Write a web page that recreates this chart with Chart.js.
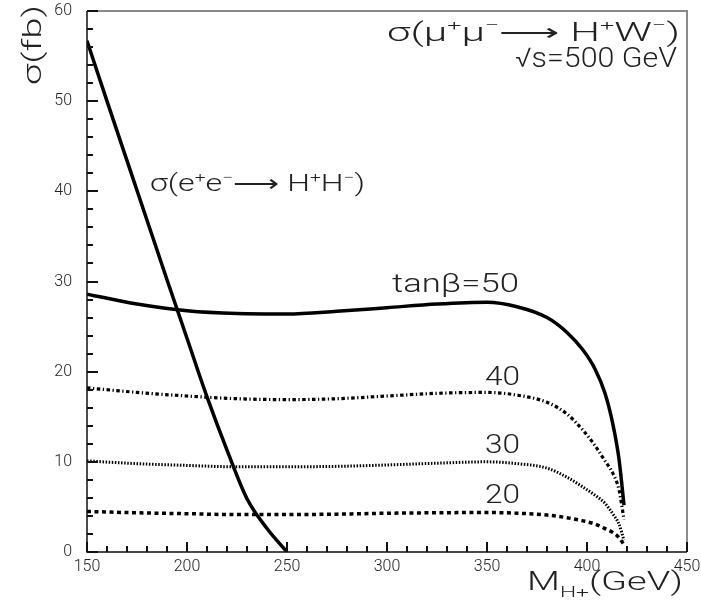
<!DOCTYPE html>
<html>
<head>
<meta charset="utf-8">
<script src="https://cdn.jsdelivr.net/npm/chart.js@4"></script>
<style>
  html, body { margin: 0; padding: 0; background: #fff; }
  #chart { display: block; }
</style>
</head>
<body>
<canvas id="chart" width="701" height="604"></canvas>
<script>
// ── Data ──
const eeMass  = [150, 160, 170, 180, 190, 200, 210, 220, 230, 240, 250];
const eeSigma = [56.7, 50.0, 43.4, 36.8, 30.2, 23.7, 17.2, 11.3, 5.9, 2.6, 0];

const hwMass = [150, 175, 200, 225, 250, 275, 300, 325, 350, 365, 380, 390, 398, 404, 409, 413, 416, 418.5];
const tb50 = [28.6, 27.5, 26.75, 26.45, 26.4, 26.7, 27.1, 27.5, 27.7, 27.2, 26.0, 24.35, 22.4, 20.3, 17.6, 14.1, 10.3, 5.2];
const tb40 = [18.2, 17.7, 17.3, 17.0, 16.9, 17.0, 17.3, 17.6, 17.7, 17.4, 16.6, 15.3, 13.5, 11.8, 10.1, 8.7, 6.9, 3.6];
const tb30 = [10.1, 9.8, 9.6, 9.45, 9.45, 9.5, 9.65, 9.85, 10.0, 9.8, 9.3, 8.3, 7.2, 6.3, 5.4, 4.2, 3.1, 1.3];
const tb20 = [4.5, 4.35, 4.25, 4.15, 4.15, 4.2, 4.3, 4.35, 4.38, 4.3, 4.1, 3.8, 3.45, 3.1, 2.6, 2.15, 1.6, 0.8];

const xTicks = [150, 200, 250, 300, 350, 400, 450];
const yTicks = [0, 10, 20, 30, 40, 50, 60];
const xMinorStep = 10;
const yMinorStep = 2;

// ── Text on the plot (anchored in data units) ──
// parts: [text, mode]  mode '' normal, 's' superscript, 'b' subscript
const notes = [
  { parts: [['σ(μ'], ['+', 's'], ['μ'], ['−', 's'], ['⟶ H'], ['+', 's'], ['W'], ['−', 's'], [')']],
    x: 446.5, y: 56.7, size: 25, width: 293, align: 'right' },
  { parts: [['√s=500 GeV']], x: 445, y: 53.8, size: 27, width: 162, align: 'right' },
  { parts: [['σ(e'], ['+', 's'], ['e'], ['−', 's'], ['⟶ H'], ['+', 's'], ['H'], ['−', 's'], [')']],
    x: 181.5, y: 40.0, size: 23, width: 215, align: 'left' },
  { parts: [['tanβ=50']], x: 302.5, y: 28.8, size: 25, width: 127, align: 'left' },
  { parts: [['40']], x: 349, y: 18.5, size: 25, width: 35, align: 'left' },
  { parts: [['30']], x: 349, y: 11.0, size: 25, width: 35, align: 'left' },
  { parts: [['20']], x: 349, y: 5.43, size: 25, width: 35, align: 'left' }
];

const FONT = 'Roboto, "DejaVu Sans", sans-serif';

function partFont(size, mode) {
  const s = mode ? size * 0.6 : size;
  return `300 ${s}px ${FONT}`;
}

function drawRich(ctx, parts, x, y, size, width, align, rotate) {
  ctx.save();
  ctx.textBaseline = 'alphabetic';
  ctx.textAlign = 'left';
  let natural = 0;
  parts.forEach(([t, m]) => { ctx.font = partFont(size, m); natural += ctx.measureText(t).width; });
  const sx = width / natural;
  ctx.translate(x, y);
  if (rotate) ctx.rotate(rotate);
  if (align === 'right') ctx.translate(-width, 0);
  ctx.scale(sx, 1);
  let cx = 0;
  parts.forEach(([t, m]) => {
    ctx.font = partFont(size, m);
    const dy = m === 's' ? -size * 0.42 : m === 'b' ? size * 0.28 : 0;
    ctx.fillText(t, cx, dy);
    cx += ctx.measureText(t).width;
  });
  ctx.restore();
}

// ── Frame, inward ticks, labels ──
const framePlugin = {
  id: 'frame',
  afterDraw(chart) {
    const { ctx, chartArea: a, scales: { x, y } } = chart;
    ctx.save();
    ctx.setLineDash([]);
    ctx.strokeStyle = '#8a8a8a';
    ctx.lineWidth = 2;
    ctx.beginPath();
    ctx.moveTo(a.left, a.top); ctx.lineTo(a.right, a.top); ctx.lineTo(a.right, a.bottom);
    ctx.stroke();

    ctx.strokeStyle = '#111';
    ctx.lineWidth = 1.5;
    ctx.beginPath();
    ctx.moveTo(a.left, a.top); ctx.lineTo(a.left, a.bottom); ctx.lineTo(a.right, a.bottom);
    ctx.stroke();

    // inward tick marks
    ctx.fillStyle = '#111';
    for (let v = xTicks[0]; v <= xTicks[xTicks.length - 1]; v += xMinorStep) {
      const px = Math.round(x.getPixelForValue(v));
      const len = xTicks.includes(v) ? 10 : 6;
      ctx.fillRect(px - 1, a.bottom - len, 2, len);
    }
    for (let v = yTicks[0]; v <= yTicks[yTicks.length - 1]; v += yMinorStep) {
      const py = Math.round(y.getPixelForValue(v));
      const len = yTicks.includes(v) ? 11 : 6;
      ctx.fillRect(a.left, py - 1, len, 2);
    }

    ctx.fillStyle = '#222';
    notes.forEach(n => {
      drawRich(ctx, n.parts, x.getPixelForValue(n.x), y.getPixelForValue(n.y), n.size, n.width, n.align);
    });

    // axis titles
    drawRich(ctx, [['M'], ['H+', 'b'], ['(GeV)']], a.right - 4, a.bottom + 38, 25, 156, 'right');
    drawRich(ctx, [['σ(fb)']], 41, a.top + 74, 26, 80, 'left', -Math.PI / 2);
    ctx.restore();
  }
};

function series(xs, ys) {
  return xs.map((m, i) => ({ x: m, y: ys[i] }));
}

const lineBase = {
  borderColor: '#000',
  pointRadius: 0,
  fill: false,
  cubicInterpolationMode: 'monotone'
};

new Chart(document.getElementById('chart'), {
  type: 'line',
  data: {
    datasets: [
      { ...lineBase, label: 'ee → H+H−', data: series(eeMass, eeSigma), borderWidth: 3.5 },
      { ...lineBase, label: 'tanβ=50', data: series(hwMass, tb50), borderWidth: 3.5 },
      { ...lineBase, label: 'tanβ=40', data: series(hwMass, tb40), borderWidth: 3.2, borderDash: [3.5, 2.5, 1.3, 2.5] },
      { ...lineBase, label: 'tanβ=30', data: series(hwMass, tb30), borderWidth: 3, borderDash: [1.5, 1.6] },
      { ...lineBase, label: 'tanβ=20', data: series(hwMass, tb20), borderWidth: 3.5, borderDash: [4, 3.5] }
    ]
  },
  options: {
    responsive: false,
    animation: false,
    devicePixelRatio: 1,
    layout: { padding: { left: 0, top: 11, right: 14, bottom: 0 } },
    plugins: { legend: { display: false }, tooltip: { enabled: false } },
    scales: {
      x: {
        type: 'linear', min: 150, max: 450,
        afterBuildTicks: s => { s.ticks = xTicks.map(v => ({ value: v })); },
        afterFit: s => { s.height = 52; s.paddingLeft = 0; s.paddingRight = 0; },
        ticks: { font: { family: FONT, size: 16, weight: 300 }, color: '#222', padding: 5, maxRotation: 0, autoSkip: false },
        grid: { drawOnChartArea: false, drawTicks: false },
        border: { display: false }
      },
      y: {
        type: 'linear', min: 0, max: 60,
        afterBuildTicks: s => { s.ticks = yTicks.map(v => ({ value: v })); },
        afterFit: s => { s.width = 87; s.paddingTop = 0; s.paddingBottom = 0; },
        ticks: { font: { family: FONT, size: 16, weight: 300 }, color: '#222', padding: 15, autoSkip: false },
        grid: { drawOnChartArea: false, drawTicks: false },
        border: { display: false }
      }
    }
  },
  plugins: [framePlugin]
});
</script>
</body>
</html>
